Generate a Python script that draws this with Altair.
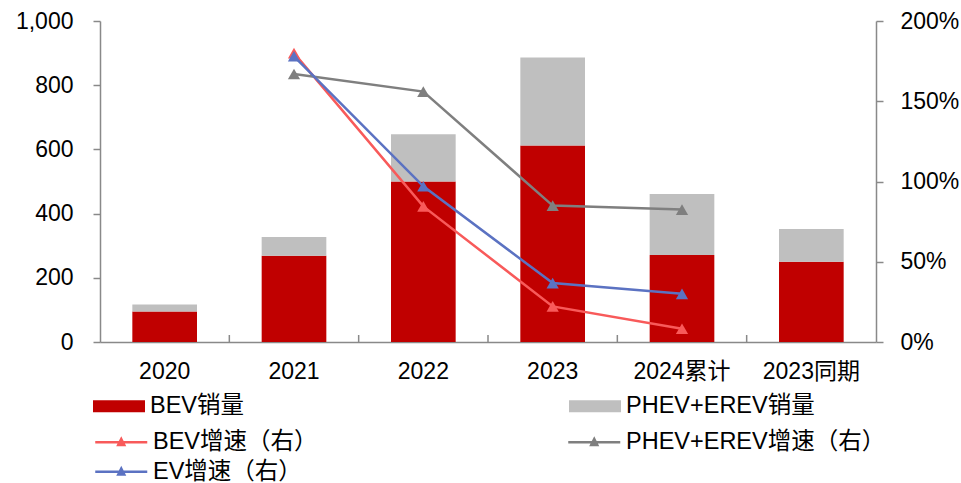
import altair as alt
import pandas as pd

categories = ["2020", "2021", "2022", "2023", "2024累计", "2023同期"]
bar_series = ["BEV销量", "PHEV+EREV销量"]
bev_sales = [95, 269, 500, 612, 271, 250]
phev_sales = [22, 58, 147, 274, 190, 102]

line_series = ["BEV增速（右）", "PHEV+EREV增速（右）", "EV增速（右）"]
line_cats = ["2021", "2022", "2023", "2024累计"]
bev_growth = [1.80, 0.845, 0.222, 0.083]
phev_growth = [1.67, 1.56, 0.85, 0.825]
ev_growth = [1.78, 0.97, 0.367, 0.30]

bar_colors = ["#C00000", "#BFBFBF"]
line_colors = ["#F85A5A", "#7F7F7F", "#5B72C2"]

FONT = "Liberation Sans, Arial, 'Noto Sans CJK SC'"
LEG_FS = 23.5
AXIS_GRAY = "#898989"

# ordered keys so the legend keeps the reference order
bar_keys = [f"{i}|{s}" for i, s in enumerate(bar_series)]
line_keys = [f"{i}|{s}" for i, s in enumerate(line_series)]
STRIP = "slice(datum.label, indexof(datum.label, '|') + 1)"

bar_rows = []
for i, c in enumerate(categories):
    bar_rows.append({"cat": c, "series": bar_keys[0], "value": bev_sales[i], "ord": 0})
    bar_rows.append({"cat": c, "series": bar_keys[1], "value": phev_sales[i], "ord": 1})
bar_df = pd.DataFrame(bar_rows)

line_rows = []
for s, vals in zip(line_keys, [bev_growth, phev_growth, ev_growth]):
    for c, v in zip(line_cats, vals):
        line_rows.append({"cat": c, "series": s, "value": v})
line_df = pd.DataFrame(line_rows)

# category separators (ticks between categories on the x axis)
sep_df = pd.DataFrame({"cat": categories[1:]})

HALF_GAP = 776 / 6 * 0.25
X_SCALE = alt.Scale(domain=categories, paddingInner=0.5, paddingOuter=0.25)


def x_axis():
    return alt.Axis(
        title=None, labelAngle=0, labelFontSize=23, labelFont=FONT, labelColor="#000000",
        labelPadding=18, ticks=False,
        domainColor=AXIS_GRAY, domainWidth=1.5,
        grid=False, labelLimit=0,
    )


def x_enc():
    return alt.X("cat:N", sort=categories, scale=X_SCALE, axis=x_axis())


separators = alt.Chart(sep_df).mark_rule(
    color=AXIS_GRAY, strokeWidth=1.5, xOffset=-HALF_GAP, x2Offset=-HALF_GAP, y2Offset=-7,
).encode(
    x=alt.X("cat:N", sort=categories, scale=X_SCALE, bandPosition=0, axis=x_axis()),
    y=alt.Y("v:Q", scale=alt.Scale(domain=[0, 1000], nice=False), axis=None),
    y2=alt.Y2("v:Q"),
).transform_calculate(v="0")

bars = alt.Chart(bar_df).mark_bar().encode(
    x=x_enc(),
    y=alt.Y(
        "value:Q", stack="zero",
        scale=alt.Scale(domain=[0, 1000], nice=False),
        axis=alt.Axis(
            title=None, values=[0, 200, 400, 600, 800, 1000], format=",.0f",
            labelFontSize=23, labelFont=FONT, labelColor="#000000", labelPadding=20,
            tickSize=7, tickColor=AXIS_GRAY, tickWidth=1.5,
            domainColor=AXIS_GRAY, domainWidth=1.5, grid=False,
        ),
    ),
    color=alt.Color(
        "series:N",
        scale=alt.Scale(domain=bar_keys, range=bar_colors),
        legend=alt.Legend(
            title=None, orient="none", legendX=-7, legendY=359, columns=2,
            direction="horizontal",
            columnPadding=324, symbolType="M-1,-0.23H1V0.23H-1Z", symbolSize=2704,
            symbolStrokeWidth=0, labelFontSize=LEG_FS, labelFont=FONT, labelColor="#000000",
            labelOffset=5, labelLimit=0, labelExpr=STRIP,
        ),
    ),
    order=alt.Order("ord:Q"),
)

lines = alt.Chart(line_df).mark_line(
    strokeWidth=2.5,
    point=alt.OverlayMarkDef(shape="triangle-up", filled=True, size=150),
).encode(
    x=x_enc(),
    y=alt.Y(
        "value:Q",
        scale=alt.Scale(domain=[0, 2], nice=False),
        axis=alt.Axis(
            title=None, orient="right", values=[0, 0.5, 1, 1.5, 2], format=".0%",
            labelFontSize=23, labelFont=FONT, labelColor="#000000", labelPadding=17,
            tickSize=7, tickColor=AXIS_GRAY, tickWidth=1.5,
            domainColor=AXIS_GRAY, domainWidth=1.5, grid=False,
        ),
    ),
    color=alt.Color(
        "series:N",
        scale=alt.Scale(domain=line_keys, range=line_colors),
        legend=alt.Legend(
            title=None, orient="none", legendX=-7, legendY=409, columns=2,
            direction="horizontal",
            columnPadding=245, rowPadding=5,
            symbolType="M-3.25,0H3.25M-0.375,0.35L0,-0.4L0.375,0.35Z", symbolSize=256,
            symbolOffset=16.5,
            symbolStrokeWidth=2.5, labelFontSize=LEG_FS, labelFont=FONT, labelColor="#000000",
            labelOffset=20, labelLimit=0, labelExpr=STRIP,
        ),
    ),
)

chart = (
    alt.layer(bars, lines, separators)
    .resolve_scale(y="independent", color="independent")
    .properties(
        width=776, height=321,
        autosize=alt.AutoSizeParams(type="none"),
        padding={"left": 100, "top": 21, "right": 85, "bottom": 141},
        background="#FFFFFF",
    )
    .configure_view(stroke=None)
)

chart.save("out.html", embed_options={"renderer": "svg", "actions": False})
